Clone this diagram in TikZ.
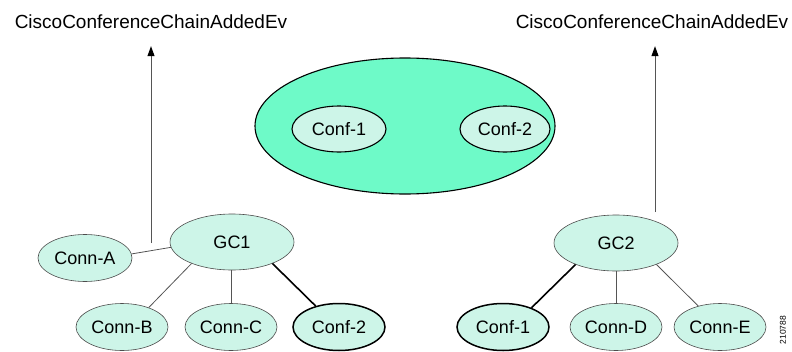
\documentclass[tikz,border=0pt]{standalone}
\usepackage{fontspec}
\setmainfont{Liberation Sans}
\usetikzlibrary{shapes.geometric,arrows.meta}
\definecolor{bigfill}{RGB}{110,250,200}
\definecolor{nodefill}{RGB}{205,245,232}
\definecolor{edgegray}{RGB}{85,85,85}
\begin{document}
\begin{tikzpicture}[x=1pt,y=-1pt,
  nodeell/.style={ellipse,draw=black!70,line width=0.6pt,fill=nodefill,
    minimum width=92pt,minimum height=47pt,inner sep=0pt,
    font=\fontsize{18}{18}\selectfont},
  gcell/.style={nodeell,minimum width=124pt,minimum height=56pt},
  confell/.style={nodeell,draw=black,line width=1.5pt},
  innerell/.style={nodeell,draw=black,line width=1.1pt,minimum height=46pt},
  bigell/.style={ellipse,draw=black,line width=1.1pt,fill=bigfill,
    minimum width=300pt,minimum height=136pt,inner sep=0pt},
  thinedge/.style={draw=edgegray,line width=0.8pt},
  thickedge/.style={draw=black,line width=1.6pt},
  evarrow/.style={draw=edgegray,line width=1pt,-{Triangle[length=10pt,width=7pt,black]}},
  lbl/.style={inner sep=0pt,font=\fontsize{19}{19}\selectfont}
]
\useasboundingbox (0,0) rectangle (792,351);
% labels
\node[lbl] (lblL) at (151,22) {CiscoConferenceChainAddedEv};
\node[lbl] (lblR) at (652,22) {CiscoConferenceChainAddedEv};
% central chained conference
\node[bigell] (big) at (405,126) {};
\node[innerell,minimum width=94pt] (ic1) at (339,129) {Conf-1};
\node[innerell,minimum width=90pt] (ic2) at (505,129) {Conf-2};
% left group
\node[gcell] (gc1) at (232,242) {GC1};
\node[nodeell,minimum width=94pt] (ca) at (85,258) {Conn-A};
\node[nodeell] (cb) at (122,327) {Conn-B};
\node[nodeell] (cc) at (231,327) {Conn-C};
\node[confell] (cf2) at (339,327) {Conf-2};
% right group
\node[gcell] (gc2) at (616,243) {GC2};
\node[confell] (cf1) at (503,327) {Conf-1};
\node[nodeell] (cd) at (616,327) {Conn-D};
\node[nodeell] (ce) at (720,327) {Conn-E};
% arrows
\coordinate (aL) at (151,243);
\coordinate (aR) at (655,212);
\draw[evarrow,shorten >=17pt] (aL) -- (lblL.south -| aL);
\draw[evarrow,shorten >=17pt] (aR) -- (lblR.south -| aR);
% edges
\draw[thinedge] (ca.5) -- (gc1.185);
\draw[thinedge] (gc1.208) -- (cb.36);
\draw[thinedge] (gc1.south -| cc) -- (cc.north);
\draw[thickedge] (gc1.332) -- (cf2.138);
\draw[thickedge] (gc2.208) -- (cf1.34);
\draw[thinedge] (gc2.south) -- (cd.north);
\draw[thinedge] (gc2.332) -- (ce.136);
% figure number
\node[rotate=90,inner sep=0pt,font=\fontsize{8.5}{8.5}\selectfont] (fig) at (783,330) {210788};
\end{tikzpicture}
\end{document}
